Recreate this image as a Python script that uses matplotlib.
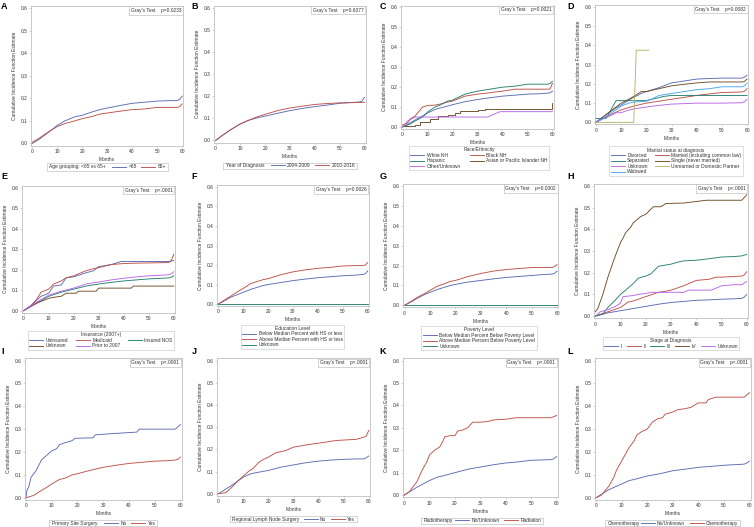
import matplotlib
matplotlib.use('Agg')
import matplotlib.pyplot as plt
from matplotlib.patches import Rectangle

# ---------------- data ----------------
XTICKS = [0, 10, 20, 30, 40, 50, 60]
YTICKS = [0.0, 0.1, 0.2, 0.3, 0.4, 0.5, 0.6]

# A: age
A_t = [0, 3, 6, 10, 13, 17, 20, 24, 27, 30, 35, 40, 45, 50, 55, 58, 59, 60]
A_v_lt65 = [0.0, 0.02, 0.045, 0.08, 0.1, 0.118, 0.125, 0.14, 0.15, 0.157, 0.168, 0.178, 0.183, 0.188, 0.19, 0.19, 0.195, 0.21]
A_v_ge65 = [0.005, 0.025, 0.048, 0.075, 0.088, 0.1, 0.11, 0.12, 0.13, 0.135, 0.143, 0.15, 0.153, 0.16, 0.16, 0.16, 0.163, 0.175]
A_labels = ['<65', '65+']

# B: year of diagnosis
B_t = [0, 3, 6, 10, 13, 17, 20, 25, 30, 35, 40, 45, 50, 55, 58, 59, 60]
B_v_0409 = [0.0, 0.025, 0.048, 0.075, 0.09, 0.103, 0.11, 0.123, 0.135, 0.145, 0.153, 0.16, 0.168, 0.172, 0.174, 0.178, 0.195]
B_v_1016 = [0.0, 0.025, 0.048, 0.075, 0.09, 0.108, 0.118, 0.135, 0.147, 0.155, 0.163, 0.167, 0.17, 0.171, 0.172, 0.172, 0.172]
B_labels = ['2004-2009', '2010-2016']

# C: race/ethnicity
C_t_white = [0, 3, 5, 8, 10, 13, 15, 20, 25, 30, 35, 40, 45, 50, 55, 58, 59, 60]
C_v_white = [0, 0.02, 0.035, 0.055, 0.07, 0.088, 0.095, 0.112, 0.127, 0.138, 0.147, 0.155, 0.16, 0.165, 0.167, 0.17, 0.172, 0.18]
C_t_black = [0, 2, 3, 5, 6, 8, 10, 13, 15, 18, 20, 25, 30, 35, 40, 45, 50, 55, 58, 59, 60]
C_v_black = [0.01, 0.02, 0.04, 0.055, 0.07, 0.1, 0.108, 0.11, 0.115, 0.125, 0.13, 0.155, 0.165, 0.172, 0.18, 0.19, 0.19, 0.19, 0.19, 0.19, 0.22]
C_t_hisp = [0, 3, 5, 8, 10, 13, 15, 18, 20, 25, 30, 35, 40, 45, 50, 55, 58, 59, 60]
C_v_hisp = [0, 0.015, 0.03, 0.05, 0.075, 0.1, 0.11, 0.13, 0.135, 0.165, 0.18, 0.19, 0.2, 0.205, 0.215, 0.215, 0.215, 0.218, 0.23]
C_t_api = [0, 5, 7, 11, 14, 18, 21, 23, 30, 33, 59, 60]
C_v_api = [0.005, 0.01, 0.025, 0.04, 0.055, 0.06, 0.07, 0.08, 0.085, 0.09, 0.09, 0.12]
C_t_oth = [0, 2, 5, 6, 34, 39, 60]
C_v_oth = [0.0, 0.03, 0.05, 0.05, 0.05, 0.077, 0.077]
C_labels = ['White NH', 'Black NH', 'Hispanic', 'Asian or Pacific Islander NH', 'Other/Unknown']

# D: marital status
D_t_div = [0, 3, 5, 8, 10, 13, 15, 18, 20, 25, 30, 35, 40, 45, 50, 55, 58, 59, 60]
D_v_div = [0, 0.03, 0.05, 0.075, 0.09, 0.115, 0.13, 0.15, 0.16, 0.18, 0.205, 0.215, 0.225, 0.228, 0.23, 0.23, 0.23, 0.235, 0.245]
D_t_mar = [0, 5, 10, 15, 20, 25, 30, 35, 40, 45, 50, 55, 58, 59, 60]
D_v_mar = [0, 0.035, 0.065, 0.085, 0.1, 0.11, 0.12, 0.13, 0.14, 0.148, 0.155, 0.157, 0.158, 0.162, 0.175]
D_t_sep = [0, 4, 8, 20, 27, 30, 60]
D_v_sep = [0.02, 0.02, 0.113, 0.113, 0.135, 0.14, 0.14]
D_t_sin = [0, 3, 5, 8, 10, 13, 15, 18, 20, 25, 30, 35, 40, 45, 50, 55, 58, 59, 60]
D_v_sin = [0, 0.03, 0.05, 0.08, 0.1, 0.12, 0.135, 0.16, 0.16, 0.175, 0.19, 0.198, 0.205, 0.21, 0.21, 0.21, 0.21, 0.213, 0.225]
D_t_unk = [0, 3, 5, 8, 10, 12, 15, 20, 25, 30, 40, 50, 58, 59, 60]
D_v_unk = [0, 0.02, 0.03, 0.05, 0.05, 0.06, 0.07, 0.08, 0.088, 0.095, 0.1, 0.1, 0.102, 0.108, 0.12]
D_t_ump = [0, 15, 16, 21]
D_v_ump = [0.0, 0.0, 0.375, 0.375]
D_t_wid = [0, 3, 5, 8, 10, 13, 15, 20, 22, 25, 30, 35, 40, 45, 50, 55, 58, 59, 60]
D_v_wid = [0.005, 0.02, 0.04, 0.065, 0.085, 0.1, 0.105, 0.11, 0.12, 0.14, 0.15, 0.16, 0.17, 0.175, 0.185, 0.185, 0.185, 0.19, 0.205]
D_labels = ['Divorced', 'Married (including common law)', 'Separated', 'Single (never married)',
            'Unknown', 'Unmarried or Domestic Partner', 'Widowed']

# E: insurance
E_t_unins = [0, 3, 5, 7, 10, 12, 15, 17, 20, 25, 28, 30, 35, 39, 45, 50, 58, 59, 60]
E_v_unins = [0, 0.025, 0.05, 0.07, 0.085, 0.12, 0.125, 0.16, 0.165, 0.185, 0.195, 0.215, 0.225, 0.24, 0.24, 0.24, 0.24, 0.242, 0.245]
E_t_medi = [0, 3, 5, 7, 10, 12, 15, 17, 20, 25, 28, 30, 35, 40, 45, 50, 58, 59, 60]
E_v_medi = [0, 0.025, 0.05, 0.09, 0.105, 0.13, 0.145, 0.16, 0.17, 0.195, 0.205, 0.21, 0.225, 0.23, 0.232, 0.233, 0.235, 0.245, 0.275]
E_t_nos = [0, 5, 10, 15, 20, 25, 30, 35, 40, 45, 50, 55, 58, 59, 60]
E_v_nos = [0, 0.035, 0.07, 0.09, 0.105, 0.12, 0.13, 0.138, 0.145, 0.15, 0.155, 0.158, 0.16, 0.163, 0.17]
E_t_unk = [0, 5, 10, 12, 15, 17, 21, 22, 29, 30, 43, 44, 60]
E_v_unk = [0, 0.035, 0.06, 0.065, 0.07, 0.085, 0.085, 0.095, 0.095, 0.11, 0.11, 0.12, 0.12]
E_t_prior = [0, 5, 10, 15, 20, 25, 30, 35, 40, 45, 50, 55, 58, 59, 60]
E_v_prior = [0, 0.04, 0.075, 0.095, 0.11, 0.13, 0.14, 0.15, 0.158, 0.165, 0.17, 0.173, 0.175, 0.18, 0.19]
E_labels = ['Uninsured', 'Medicaid', 'Insured NOS', 'Unknown', 'Prior to 2007']

# F: education
F_t = [0, 3, 5, 8, 10, 13, 15, 18, 20, 25, 30, 35, 40, 45, 50, 55, 58, 59, 60]
F_v_below = [0, 0.02, 0.035, 0.05, 0.06, 0.075, 0.083, 0.095, 0.1, 0.11, 0.12, 0.128, 0.135, 0.14, 0.145, 0.148, 0.152, 0.155, 0.17]
F_v_above = [0, 0.025, 0.04, 0.065, 0.08, 0.105, 0.113, 0.125, 0.13, 0.15, 0.165, 0.175, 0.183, 0.188, 0.195, 0.197, 0.197, 0.2, 0.213]
F_t_unk = [0, 60]
F_v_unk = [0.0, 0.0]
F_labels = ['Below Median Percent with HS or less', 'Above Median Percent with HS or less', 'Unknown']

# G: poverty
G_t = [0, 3, 5, 8, 10, 13, 15, 18, 20, 25, 30, 35, 40, 45, 50, 55, 58, 59, 60]
G_v_below = [0, 0.02, 0.035, 0.055, 0.065, 0.08, 0.088, 0.1, 0.105, 0.117, 0.125, 0.133, 0.14, 0.145, 0.15, 0.155, 0.157, 0.16, 0.172]
G_v_above = [0, 0.023, 0.04, 0.06, 0.075, 0.097, 0.105, 0.12, 0.125, 0.145, 0.16, 0.172, 0.18, 0.185, 0.19, 0.19, 0.19, 0.195, 0.205]
G_t_unk = [0, 60]
G_v_unk = [0.0, 0.0]
G_labels = ['Below Median Percent Below Poverty Level', 'Above Median Percent Below Poverty Level', 'Unknown']

# H: stage
H_t_I = [0, 5, 10, 15, 20, 25, 30, 35, 40, 45, 50, 55, 58, 59, 60]
H_v_I = [0, 0.015, 0.025, 0.035, 0.045, 0.055, 0.063, 0.068, 0.073, 0.075, 0.078, 0.08, 0.082, 0.088, 0.1]
H_t_II = [0, 5, 10, 13, 15, 20, 25, 28, 30, 33, 35, 38, 40, 45, 48, 50, 55, 58, 59, 60]
H_v_II = [0, 0.02, 0.04, 0.065, 0.07, 0.09, 0.11, 0.115, 0.12, 0.132, 0.14, 0.155, 0.165, 0.17, 0.18, 0.18, 0.183, 0.185, 0.19, 0.205]
H_t_III = [0, 3, 5, 8, 10, 13, 15, 17, 20, 22, 25, 30, 33, 35, 40, 45, 50, 55, 58, 60]
H_v_III = [0, 0.01, 0.04, 0.075, 0.1, 0.13, 0.15, 0.175, 0.185, 0.195, 0.23, 0.24, 0.25, 0.255, 0.258, 0.265, 0.273, 0.275, 0.278, 0.285]
H_t_IV = [0, 1, 3, 5, 8, 10, 11, 12, 14, 15, 18, 20, 23, 26, 28, 35, 44, 50, 58, 60]
H_v_IV = [0.02, 0.035, 0.1, 0.18, 0.28, 0.34, 0.36, 0.385, 0.41, 0.43, 0.46, 0.47, 0.505, 0.505, 0.52, 0.522, 0.535, 0.535, 0.535, 0.56]
H_t_unk = [0, 2, 5, 8, 10, 11, 15, 17, 20, 22, 35, 37, 46, 48, 50, 55, 58, 60]
H_v_unk = [0, 0.02, 0.03, 0.045, 0.06, 0.09, 0.095, 0.1, 0.105, 0.11, 0.11, 0.12, 0.12, 0.13, 0.14, 0.145, 0.145, 0.16]
H_labels = ['I', 'II', 'III', 'IV', 'Unknown']

# I: primary site surgery
I_t_no = [0, 0.3, 1, 2, 4, 6, 8, 10, 12, 13, 15, 18, 19, 26, 27, 33, 40, 43, 44, 58, 60]
I_v_no = [0, 0.03, 0.045, 0.09, 0.12, 0.165, 0.185, 0.205, 0.215, 0.232, 0.24, 0.25, 0.26, 0.262, 0.275, 0.28, 0.285, 0.287, 0.3, 0.3, 0.32]
I_t_yes = [0, 3, 5, 8, 10, 13, 15, 18, 20, 25, 30, 35, 40, 45, 50, 55, 58, 59, 60]
I_v_yes = [0, 0.01, 0.025, 0.045, 0.06, 0.08, 0.085, 0.1, 0.105, 0.12, 0.133, 0.142, 0.15, 0.155, 0.16, 0.162, 0.165, 0.168, 0.178]
I_labels = ['No', 'Yes']

# J: regional lymph node surgery
J_t_no = [0, 5, 10, 13, 15, 20, 25, 30, 35, 40, 45, 50, 55, 58, 59, 60]
J_v_no = [0, 0.035, 0.075, 0.09, 0.095, 0.105, 0.12, 0.13, 0.14, 0.147, 0.152, 0.155, 0.157, 0.157, 0.162, 0.17]
J_t_yes = [0, 3, 5, 8, 10, 12, 14, 16, 18, 20, 23, 27, 30, 35, 40, 47, 55, 58, 59, 60]
J_v_yes = [0, 0.005, 0.025, 0.06, 0.08, 0.1, 0.115, 0.14, 0.155, 0.165, 0.185, 0.195, 0.21, 0.22, 0.228, 0.24, 0.245, 0.255, 0.26, 0.285]
J_labels = ['No', 'Yes']

# K: radiotherapy
K_t_no = [0, 5, 10, 13, 15, 20, 25, 30, 35, 40, 45, 50, 55, 58, 59, 60]
K_v_no = [0, 0.035, 0.065, 0.08, 0.085, 0.1, 0.115, 0.125, 0.135, 0.143, 0.148, 0.155, 0.157, 0.158, 0.162, 0.172]
K_t_rad = [0, 2, 5, 7, 9, 10, 12, 14, 15, 16, 18, 20, 21, 23, 25, 27, 30, 33, 35, 40, 44, 58, 60]
K_v_rad = [0, 0.015, 0.06, 0.11, 0.15, 0.18, 0.2, 0.215, 0.235, 0.26, 0.265, 0.265, 0.285, 0.29, 0.3, 0.325, 0.325, 0.328, 0.335, 0.338, 0.345, 0.345, 0.355]
K_labels = ['No/Unknown', 'Radiation']

# L: chemotherapy
L_t_no = [0, 5, 10, 13, 15, 20, 25, 30, 35, 40, 45, 50, 55, 58, 59, 60]
L_v_no = [0, 0.035, 0.06, 0.075, 0.08, 0.095, 0.105, 0.118, 0.125, 0.133, 0.137, 0.142, 0.145, 0.147, 0.152, 0.16]
L_t_chemo = [0, 2, 5, 7, 8, 10, 11, 13, 15, 16, 18, 20, 22, 24, 26, 27, 30, 32, 35, 37, 40, 43, 44, 47, 58, 60]
L_v_chemo = [0, 0.01, 0.05, 0.09, 0.12, 0.16, 0.18, 0.22, 0.25, 0.275, 0.29, 0.3, 0.33, 0.345, 0.35, 0.365, 0.375, 0.385, 0.39, 0.395, 0.415, 0.415, 0.43, 0.44, 0.44, 0.46]
L_labels = ['No/Unknown', 'Chemotherapy']

P_VALUES = ['p=0.0233', 'p=0.6077', 'p=0.0021', 'p=0.0082', 'p<.0001', 'p=0.0026',
            'p=0.0302', 'p<.0001', 'p<.0001', 'p<.0001', 'p<.0001', 'p<.0001']

# ---------------- style ----------------
W, H = 754, 527
FS = 3.5
SPINE = '#b4b4b4'
TXT = '#333333'
BLUE = '#5b6bb2'
RED = '#bd5048'
GREEN = '#23806f'
BROWN = '#704a26'
PURPLE = '#b765e8'
OLIVE = '#b4b468'
LBLUE = '#45a5f5'

plt.rcParams['font.family'] = ['Liberation Sans', 'DejaVu Sans']
fig = plt.figure(figsize=(W / 100, H / 100), dpi=100)


def fx(x):
    return x / W


def fy(y):
    return 1 - y / H


def px_rect(l, t, r, b):
    return [l / W, 1 - b / H, (r - l) / W, (b - t) / H]


def panel(letter, lpos, rect, series, ptxt):
    ax = fig.add_axes(px_rect(*rect))
    lines = []
    for t, v, c, ds in series:
        ln, = ax.plot(t, v, color=c, lw=0.65, drawstyle=ds)
        lines.append(ln)
    ax.set_xlim(-0.5, 60.5)
    ax.set_ylim(-0.01, 0.61)
    ax.set_xticks(XTICKS)
    ax.set_yticks(YTICKS)
    ax.set_yticklabels([f'{y:.1f}' for y in YTICKS])
    for s in ax.spines.values():
        s.set_color(SPINE)
        s.set_linewidth(0.5)
    ax.tick_params(length=1.5, width=0.4, color=SPINE, labelsize=FS, pad=1, labelcolor=TXT)
    ax.set_xlabel('Months', fontsize=FS, labelpad=2, color=TXT)
    ax.set_ylabel('Cumulative Incidence Function Estimate', fontsize=FS, labelpad=2.5, color=TXT)
    ax.text(0.985, 0.985, "Gray's Test    " + ptxt, transform=ax.transAxes, ha='right', va='top',
            fontsize=FS, color=TXT,
            bbox=dict(boxstyle='square,pad=0.35', fc='white', ec=SPINE, lw=0.4))
    fig.text(fx(lpos[0]), fy(lpos[1]), letter, fontsize=6.5, fontweight='bold', va='top', ha='left')
    return lines


def row_legend(lines, labels, title, box):
    l, t, r, b = box
    yc = (t + b) / 2
    fig.add_artist(Rectangle((fx(l), fy(b)), (r - l) / W, (b - t) / H, transform=fig.transFigure,
                             fill=False, ec=SPINE, lw=0.4))
    fig.text(fx(l + 2.5), fy(yc), title, fontsize=FS, va='center', ha='left', color=TXT)
    leg = fig.legend(lines, labels, ncol=len(lines), loc='center right',
                     bbox_to_anchor=(fx(r - 1.5), fy(yc)), frameon=False, fontsize=FS,
                     handlelength=2.9, handletextpad=0.5, columnspacing=0.9, borderpad=0,
                     borderaxespad=0)
    for tx in leg.get_texts():
        tx.set_color(TXT)


def box_legend(lines, labels, title, center, ncol, order, colsp=1.5):
    h = [lines[i] for i in order]
    lb = [labels[i] for i in order]
    leg = fig.legend(h, lb, title=title, ncol=ncol, loc='center',
                     bbox_to_anchor=(fx(center[0]), fy(center[1])), frameon=True, fancybox=False,
                     fontsize=FS, title_fontsize=FS, handlelength=2.9, handletextpad=0.5,
                     columnspacing=colsp, labelspacing=0.1, borderpad=0.3, borderaxespad=0)
    fr = leg.get_frame()
    fr.set_edgecolor(SPINE)
    fr.set_linewidth(0.4)
    for tx in leg.get_texts():
        tx.set_color(TXT)
    leg.get_title().set_color(TXT)


# A
ln = panel('A', (1, 2), (31, 6, 183.3, 145.7),
           [(A_t, A_v_lt65, BLUE, 'default'), (A_t, A_v_ge65, RED, 'default')], P_VALUES[0])
row_legend(ln, A_labels, 'Age grouping: <65 vs 65+', (46.7, 163, 167.7, 170.7))

# B
ln = panel('B', (191.5, 2), (214.3, 5.5, 365.7, 142.7),
           [(B_t, B_v_0409, BLUE, 'default'), (B_t, B_v_1016, RED, 'default')], P_VALUES[1])
row_legend(ln, B_labels, 'Year of Diagnosis', (223.3, 162.7, 356.7, 168.5))

# C
ln = panel('C', (379.5, 2), (401.3, 5.5, 553.7, 129),
           [(C_t_white, C_v_white, BLUE, 'default'), (C_t_black, C_v_black, RED, 'default'),
            (C_t_hisp, C_v_hisp, GREEN, 'default'), (C_t_api, C_v_api, BROWN, 'steps-post'),
            (C_t_oth, C_v_oth, PURPLE, 'default')], P_VALUES[2])
box_legend(ln, C_labels, 'Race/Ethnicity', (479, 158), 2, [0, 2, 4, 1, 3], colsp=1.8)

# D
ln = panel('D', (567.5, 2), (594.7, 5, 748.3, 124.3),
           [(D_t_div, D_v_div, BLUE, 'default'), (D_t_mar, D_v_mar, RED, 'default'),
            (D_t_sep, D_v_sep, GREEN, 'default'), (D_t_sin, D_v_sin, BROWN, 'default'),
            (D_t_unk, D_v_unk, PURPLE, 'default'), (D_t_ump, D_v_ump, OLIVE, 'default'),
            (D_t_wid, D_v_wid, LBLUE, 'default')], P_VALUES[3])
box_legend(ln, D_labels, 'Marital status at diagnosis', (676, 161), 2, [0, 2, 4, 6, 1, 3, 5], colsp=1.0)

# E
ln = panel('E', (1, 172), (22.3, 185.7, 175, 312.7),
           [(E_t_unins, E_v_unins, BLUE, 'default'), (E_t_medi, E_v_medi, RED, 'default'),
            (E_t_nos, E_v_nos, GREEN, 'default'), (E_t_unk, E_v_unk, BROWN, 'default'),
            (E_t_prior, E_v_prior, PURPLE, 'default')], P_VALUES[4])
box_legend(ln, E_labels, 'Insurance (2007+)', (101, 340.3), 3, [0, 3, 1, 4, 2], colsp=1.5)

# F
ln = panel('F', (191.5, 172), (217, 185, 369, 306),
           [(F_t, F_v_below, BLUE, 'default'), (F_t, F_v_above, RED, 'default'),
            (F_t_unk, F_v_unk, GREEN, 'default')], P_VALUES[5])
box_legend(ln, F_labels, 'Education Level', (292.5, 336.7), 1, [0, 1, 2])

# G
ln = panel('G', (379.5, 172), (403.3, 184, 558.3, 307.3),
           [(G_t, G_v_below, BLUE, 'default'), (G_t, G_v_above, RED, 'default'),
            (G_t_unk, G_v_unk, GREEN, 'default')], P_VALUES[6])
box_legend(ln, G_labels, 'Poverty Level', (479, 338), 1, [0, 1, 2])

# H
ln = panel('H', (567.5, 172), (594, 184, 748, 318.3),
           [(H_t_I, H_v_I, BLUE, 'default'), (H_t_II, H_v_II, RED, 'default'),
            (H_t_III, H_v_III, GREEN, 'default'), (H_t_IV, H_v_IV, BROWN, 'default'),
            (H_t_unk, H_v_unk, PURPLE, 'default')], P_VALUES[7])
box_legend(ln, H_labels, 'Stage at Diagnosis', (671, 343.3), 5, [0, 1, 2, 3, 4], colsp=0.9)

# I
ln = panel('I', (1, 347), (24.7, 358.3, 181.7, 500),
           [(I_t_no, I_v_no, BLUE, 'default'), (I_t_yes, I_v_yes, RED, 'default')], P_VALUES[8])
row_legend(ln, I_labels, 'Primary Site Surgery', (49.3, 520.2, 157.3, 526))

# J
ln = panel('J', (191.5, 347), (217, 358.3, 370, 496),
           [(J_t_no, J_v_no, BLUE, 'default'), (J_t_yes, J_v_yes, RED, 'default')], P_VALUES[9])
row_legend(ln, J_labels, 'Regional Lymph Node Surgery', (230, 516.2, 356.7, 522))

# K
ln = panel('K', (379.5, 347), (403, 358.3, 557.7, 497.3),
           [(K_t_no, K_v_no, BLUE, 'default'), (K_t_rad, K_v_rad, RED, 'default')], P_VALUES[10])
row_legend(ln, K_labels, 'Radiotherapy', (421, 517.8, 543.3, 523.6))

# L
ln = panel('L', (567.5, 347), (594.7, 358.3, 750.7, 500),
           [(L_t_no, L_v_no, BLUE, 'default'), (L_t_chemo, L_v_chemo, RED, 'default')], P_VALUES[11])
row_legend(ln, L_labels, 'Chemotherapy', (605, 520.2, 740, 526))

fig.savefig('out.png', dpi=100)
